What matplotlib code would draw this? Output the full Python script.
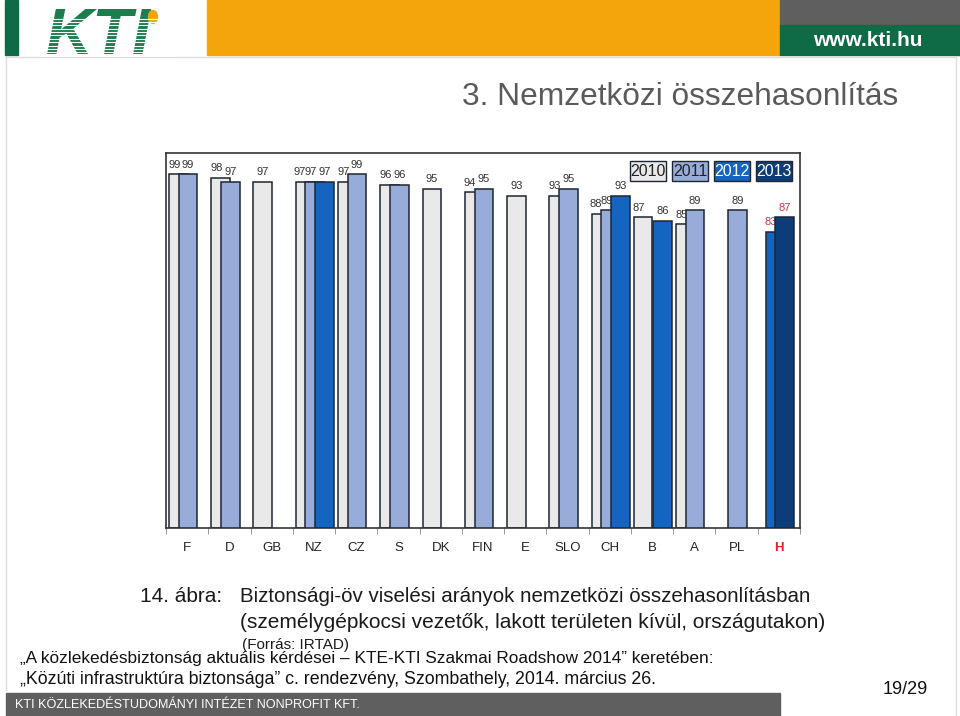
import numpy as np
import matplotlib
matplotlib.use('Agg')
from matplotlib import pyplot as plt
from matplotlib.patches import Rectangle, Ellipse

plt.rcParams['font.family'] = ['Liberation Sans', 'DejaVu Sans']

countries = ['F', 'D', 'GB', 'NZ', 'CZ', 'S', 'DK', 'FIN', 'E', 'SLO', 'CH', 'B', 'A', 'PL', 'H']
years = ['2010', '2011', '2012', '2013']
v2010 = [99, 98, 97, 97, 97, 96, 95, 94, 93, 93, 88, 87, 85, None, None]
v2011 = [99, 97, None, 97, 99, 96, None, 95, None, 95, 89, None, 89, 89, None]
v2012 = [None, None, None, 97, None, None, None, None, None, None, 93, 86, None, None, 83]
v2013 = [None, None, None, None, None, None, None, None, None, None, None, None, None, None, 87]
series = [v2010, v2011, v2012, v2013]

colors = ['#e9e9e9', '#98acd9', '#1565c0', '#0d3d78']
edge = '#1e2633'
highlight = 'H'

fig = plt.figure(figsize=(9.6, 7.16), dpi=100)

# slide decoration (pixel coords)
bg = fig.add_axes([0, 0, 1, 1])
bg.set_xlim(0, 960)
bg.set_ylim(716, 0)
bg.axis('off')
bg.add_patch(Rectangle((5, 0), 13, 55, color='#0e6b45'))
bg.add_patch(Rectangle((207, 0), 573, 55, color='#f5a50c'))
bg.add_patch(Rectangle((780, 0), 180, 25, color='#5f5f5f'))
bg.add_patch(Rectangle((780, 25), 180, 30, color='#0e6b45'))
bg.text(868, 40, 'www.kti.hu', color='white', fontsize=15, fontweight='bold',
        ha='center', va='center')
# KTI logo
bg.text(46, 37, 'KTI', color='#1d7d4e', fontsize=47, fontweight='bold', style='italic',
        ha='left', va='center')
for yy in np.arange(18.5, 56, 3.4):
    bg.plot([40, 175], [yy, yy], color='white', lw=0.8, zorder=5)
bg.add_patch(Ellipse((153, 17), 9, 13, color='#f5a50c', zorder=4))
# slide frame
bg.plot([6, 6], [57, 690], color='#dddddd', lw=1)
bg.plot([956, 956], [57, 716], color='#dddddd', lw=1)
bg.plot([6, 956], [57, 57], color='#dddddd', lw=1)

bg.text(898, 97, '3. Nemzetközi összehasonlítás', color='#5a5a5a', fontsize=22.8,
        ha='right', va='center')

bg.text(140, 597, '14. ábra:', color='#1a1a1a', fontsize=15, ha='left', va='center')
bg.text(240, 597, 'Biztonsági-öv viselési arányok nemzetközi összehasonlításban',
        color='#1a1a1a', fontsize=14.8, ha='left', va='center')
bg.text(240, 622, '(személygépkocsi vezetők, lakott területen kívül, országutakon)',
        color='#1a1a1a', fontsize=15, ha='left', va='center')
bg.text(242, 645, '(Forrás: IRTAD)', color='#1a1a1a', fontsize=11, ha='left', va='center')
bg.text(20, 659, '„A közlekedésbiztonság aktuális kérdései – KTE-KTI Szakmai Roadshow 2014” keretében:',
        color='#111111', fontsize=12.4, ha='left', va='center')
bg.text(20, 680, '„Közúti infrastruktúra biztonsága” c. rendezvény, Szombathely, 2014. március 26.',
        color='#111111', fontsize=12.8, ha='left', va='center')
bg.text(928, 690, '19/29', color='#111111', fontsize=13, ha='right', va='center')
bg.add_patch(Rectangle((6, 693), 774, 23, color='#5f5f5f'))
bg.text(15, 705, 'KTI KÖZLEKEDÉSTUDOMÁNYI INTÉZET NONPROFIT KFT.', color='white',
        fontsize=9.1, ha='left', va='center')

# chart
ax = fig.add_axes([166 / 960, 1 - 528 / 716, 634 / 960, 375 / 716])
x = np.arange(len(countries))
step = 0.23
width = 0.44
base = -0.21
for i in range(len(countries)):
    present = [k for k in range(4) if series[k][i] is not None]
    shift = 0
    if base + present[-1] * step + width / 2 > 0.5:
        shift = -1.5 * step
    for j, k in enumerate(present):
        val = series[k][i]
        cx = x[i] + base + k * step + shift
        ax.bar(cx, val, width=width, color=colors[k], edgecolor=edge, linewidth=1.1,
               zorder=2 + 2 * k)
        n_after = len(present) - 1 - j
        lx = cx - (0.06 + 0.035 * n_after) if n_after > 0 else cx
        tc = '#c8364a' if countries[i] == highlight else '#333333'
        ax.text(lx, val + 1.3, str(val), ha='center', va='bottom', fontsize=8,
                color=tc, zorder=3 + 2 * k)

ax.set_xlim(-0.5, len(countries) - 0.5)
ax.set_ylim(0, 105)
ax.set_yticks([])
ax.set_xticks(x)
ax.set_xticklabels(countries, fontsize=9.5, color='#222222')
ax.set_xticks(np.arange(-0.5, len(countries)), minor=True)
ax.tick_params(axis='x', which='major', length=0, pad=10)
ax.tick_params(axis='x', which='minor', length=4, color='#888888')
for lab in ax.get_xticklabels():
    if lab.get_text() == highlight:
        lab.set_color('#e0202a')
        lab.set_fontweight('bold')
for s in ax.spines.values():
    s.set_color('#333333')
    s.set_linewidth(1.2)

# legend boxes on top overlay
top = fig.add_axes([0, 0, 1, 1])
top.set_xlim(0, 960)
top.set_ylim(716, 0)
top.axis('off')
leg_left = [630, 672, 714, 756]
for k, yr in enumerate(years):
    tcol = 'white' if k >= 2 else '#222222'
    top.add_patch(Rectangle((leg_left[k], 161), 36, 20, facecolor=colors[k],
                            edgecolor=edge, linewidth=1.0))
    top.text(leg_left[k] + 18, 171.5, yr, ha='center', va='center', fontsize=11.5,
             color=tcol)

fig.savefig('out.png', dpi=100)
